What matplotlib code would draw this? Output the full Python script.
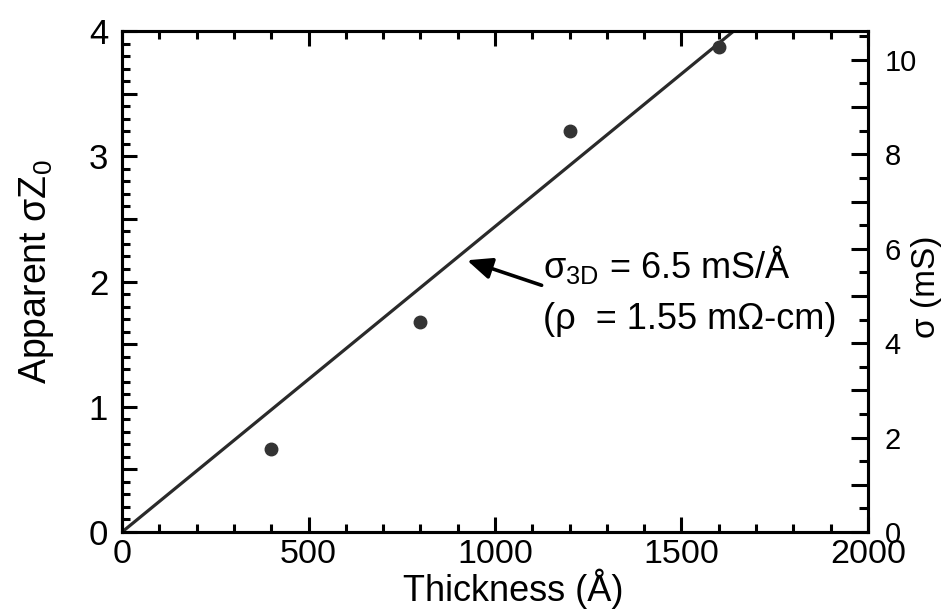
import matplotlib
matplotlib.use("Agg")
import matplotlib.pyplot as plt
from matplotlib.ticker import MultipleLocator, FixedLocator
import numpy as np

plt.rcParams['font.family'] = ['Liberation Sans', 'DejaVu Sans']
plt.rcParams['mathtext.fontset'] = 'custom'
plt.rcParams['mathtext.rm'] = 'Liberation Sans'
plt.rcParams['mathtext.it'] = 'Liberation Sans'
plt.rcParams['mathtext.default'] = 'regular'

# data
thickness = [400, 800, 1200, 1600]
sigma_z0 = [0.66, 1.68, 3.20, 3.87]
fit_x = [0, 1640]
fit_y = [0.0, 4.0]
Z0 = 377.0  # ohms
xticks = [0, 500, 1000, 1500, 2000]

fig = plt.figure(figsize=(9.49, 6.09), dpi=100)
ax = fig.add_axes([0.1286, 0.1264, 0.786, 0.8226])

ax.plot(fit_x, fit_y, color='#2a2a2a', lw=2.3, solid_capstyle='butt', zorder=2)
ax.plot(thickness, sigma_z0, 'o', color='#333333', ms=9, zorder=3)

ax.set_xlim(0, 2000)
ax.set_ylim(0, 4)

ax.xaxis.set_major_locator(FixedLocator(xticks))
ax.xaxis.set_minor_locator(MultipleLocator(100))
ax.yaxis.set_major_locator(MultipleLocator(0.5))
ax.yaxis.set_minor_locator(MultipleLocator(0.1))
ax.yaxis.set_major_formatter(plt.FuncFormatter(lambda v, p: f"{int(round(v))}" if abs(v - round(v)) < 1e-6 else ""))

for s in ax.spines.values():
    s.set_linewidth(2.2)

ax.tick_params(axis='x', which='both', direction='in', top=True, bottom=True, width=2.2)
ax.tick_params(axis='x', which='major', length=11, labelsize=24.5, pad=5)
ax.tick_params(axis='x', which='minor', length=5.5)
ax.tick_params(axis='y', which='both', direction='in', left=True, right=False, width=2.2)
ax.tick_params(axis='y', which='major', length=11, labelsize=25, pad=10)
ax.tick_params(axis='y', which='minor', length=5.5)

ax.set_xlabel('Thickness (Å)', fontsize=26)
ax.xaxis.set_label_coords(0.525, -0.073)
ax.set_ylabel('Apparent σZ$_0$', fontsize=27)
ax.yaxis.set_label_coords(-0.088, 0.52)

ax2 = ax.twinx()
ax2.set_ylim(0, 4 / Z0 * 1000)
ax2.yaxis.set_major_locator(MultipleLocator(1))
ax2.yaxis.set_minor_locator(MultipleLocator(0.5))
ax2.yaxis.set_major_formatter(plt.FuncFormatter(lambda v, p: f"{int(round(v))}" if int(round(v)) % 2 == 0 else ""))
ax2.tick_params(axis='y', which='both', direction='in', width=2.2)
ax2.tick_params(axis='y', which='major', length=12, labelsize=21, pad=12)
ax2.tick_params(axis='y', which='minor', length=6.5)
for s in ax2.spines.values():
    s.set_linewidth(2.2)
ax2.set_ylabel('σ (mS)', fontsize=24)
ax2.yaxis.set_label_coords(1.058, 0.49)

ax.annotate('', xy=(925, 2.17), xytext=(1125, 1.97),
            arrowprops=dict(arrowstyle='-|>,head_length=1.5,head_width=0.65', color='black', lw=2.6,
                            shrinkA=0, shrinkB=0))
ax.text(1128, 2.14, 'σ$_{3D}$ = 6.5 mS/Å', fontsize=26, va='center', ha='left')
ax.text(1130, 1.70, '(ρ  = 1.55 mΩ-cm)', fontsize=26, va='center', ha='left')

fig.savefig('out.png', dpi=100)
